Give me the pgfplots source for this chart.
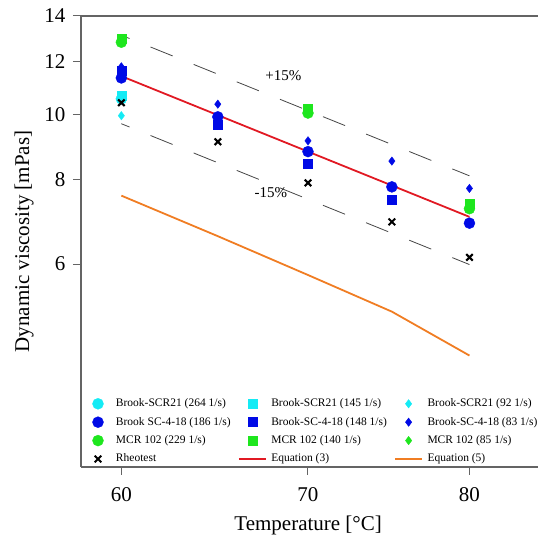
\documentclass[border=0pt]{standalone}
\usepackage{fontspec}
\setmainfont{Liberation Serif}
\usepackage{pgfplots}
\pgfplotsset{compat=1.18}

\definecolor{cyanc}{RGB}{20,235,245}
\definecolor{bluec}{RGB}{0,10,230}
\definecolor{greenc}{RGB}{30,230,30}
\definecolor{redc}{RGB}{225,25,35}
\definecolor{orangec}{RGB}{240,125,35}
\definecolor{framec}{RGB}{100,100,100}
\definecolor{dashc}{RGB}{70,70,70}

\pgfplotsset{
    mk/.style={only marks,
        legend image code/.code={\path[draw=none, fill=none] (0bp,-3bp) rectangle (27bp,3bp);
            \draw[##1] plot coordinates {(13.5bp,0bp)};}},
}

\begin{document}
\begin{tikzpicture}
\begin{axis}[
    scale only axis,
    width=457bp, height=451bp,
    % the temperature axis of the original is not linear
    x coord trafo/.code={\pgfmathparse{17.372*(#1-70)-0.1257*(#1-70)*(#1-70)}},
    xmin=58, xmax=84.8,
    ymode=log, ymin=3, ymax=14,
    axis x line*=box, axis y line*=left,
    axis line style={-, framec, line width=1.1bp},
    xtick pos=left,
    xtick={60,70,80}, xticklabels={60,70,80},
    ytick={6,8,10,12,14}, yticklabels={6,8,10,12,14},
    yminorticks=false,
    tick align=outside,
    major tick length=8bp,
    major tick style={framec, line width=1bp},
    /pgf/number format/assume math mode=true,
    tick label style={font=\fontsize{21bp}{21bp}\selectfont},
    xticklabel style={yshift=-9bp},
    yticklabel style={xshift=-4bp},
    label style={font=\fontsize{21bp}{21bp}\selectfont},
    xlabel={Temperature [°C]},
    ylabel={Dynamic viscosity [mPas]},
    xlabel style={at={(axis description cs:0.497,-0.1286)}, anchor=center},
    ylabel style={at={(axis description cs:-0.1247,0.5)}, anchor=center},
    clip=false,
    legend columns=3,
    legend cell align=left,
    legend image code/.code={\draw[#1] (0bp,0bp) -- (27bp,0bp);},
    legend style={draw=none, fill=none, inner sep=0pt, outer sep=0pt,
        at={(0,0)}, anchor=south west, xshift=3.5bp, yshift=0.5bp,
        font=\fontsize{11.5bp}{13bp}\selectfont,
        nodes={inner sep=2bp, text height=8.5bp, text depth=2.5bp},
        row sep=3.4bp,
        /tikz/every odd column/.append style={column sep=2.5bp},
        /tikz/every even column/.append style={column sep=5.3bp}},
]
% +/-15 % band around equation (3)
\addplot[forget plot, dashc, line width=0.8bp, dash pattern=on 23.8bp off 22.7bp, dash phase=15bp] coordinates {(60,13.11) (80,8.11)};
\addplot[forget plot, dashc, line width=0.8bp, dash pattern=on 23.8bp off 22.7bp, dash phase=15bp] coordinates {(60,9.69) (80,5.99)};

\addplot[mk, mark=*, mark size=5.5bp, color=cyanc] coordinates {(60,10.55)};
\addlegendentry{Brook-SCR21 (264 1/s)}
\addplot[mk, mark=square*, mark size=4.5bp, color=cyanc] coordinates {(60,10.65)};
\addlegendentry{Brook-SCR21 (145 1/s)}
\addplot[mk, mark=diamond*, mark size=4.2bp, color=cyanc] coordinates {(60,9.96)};
\addlegendentry{Brook-SCR21 (92 1/s)}

\addplot[mk, mark=*, mark size=5.5bp, color=bluec] coordinates {(60,11.33) (65,9.92) (70,8.81) (75,7.81) (80,6.90)};
\addlegendentry{Brook SC-4-18 (186 1/s)}
\addplot[mk, mark=square*, mark size=4.5bp, color=bluec] coordinates {(60,11.6) (65,9.65) (70,8.46) (75,7.47)};
\addlegendentry{Brook-SC-4-18 (148 1/s)}
\addplot[mk, mark=diamond*, mark size=4.2bp, color=bluec] coordinates {(60,11.77) (65,10.36) (70,9.14) (75,8.53) (80,7.77)};
\addlegendentry{Brook-SC-4-18 (83 1/s)}

\addplot[mk, mark=*, mark size=5.5bp, color=greenc] coordinates {(60,12.8) (70,10.05) (80,7.25)};
\addlegendentry{MCR 102 (229 1/s)}
\addplot[mk, mark=square*, mark size=4.5bp, color=greenc] coordinates {(60,12.95) (70,10.2) (80,7.38)};
\addlegendentry{MCR 102 (140 1/s)}
\addplot[mk, mark=diamond*, mark size=4.2bp, color=greenc] coordinates {(60,12.8) (70,10.05) (80,7.25)};
\addlegendentry{MCR 102 (85 1/s)}

\addplot[mk, mark=x, mark size=4.6bp, mark options={line width=2.1bp}, color=black] coordinates {(60,10.41) (65,9.11) (70,7.92) (75,6.93) (80,6.14)};
\addlegendentry{Rheotest}

\addplot[redc, line width=1.8bp] coordinates {(60,11.4) (80,7.05)};
\addlegendentry{Equation (3)}
\addplot[orangec, line width=1.8bp] coordinates {(60,7.58) (65,6.60) (70,5.78) (75,5.10) (80,4.39)};
\addlegendentry{Equation (5)}

\node[font=\fontsize{15bp}{15bp}\selectfont] at (axis cs:68.6,11.44) {+15\%};
\node[font=\fontsize{15bp}{15bp}\selectfont] at (axis cs:67.9,7.65) {-15\%};

\coordinate (bl) at (rel axis cs:0,0);
\coordinate (tr) at (rel axis cs:1,1);
\end{axis}
\pgfresetboundingbox
\path[use as bounding box] ([xshift=-81bp,yshift=-69bp]bl) rectangle ([yshift=16bp]tr);
\end{tikzpicture}
\end{document}
